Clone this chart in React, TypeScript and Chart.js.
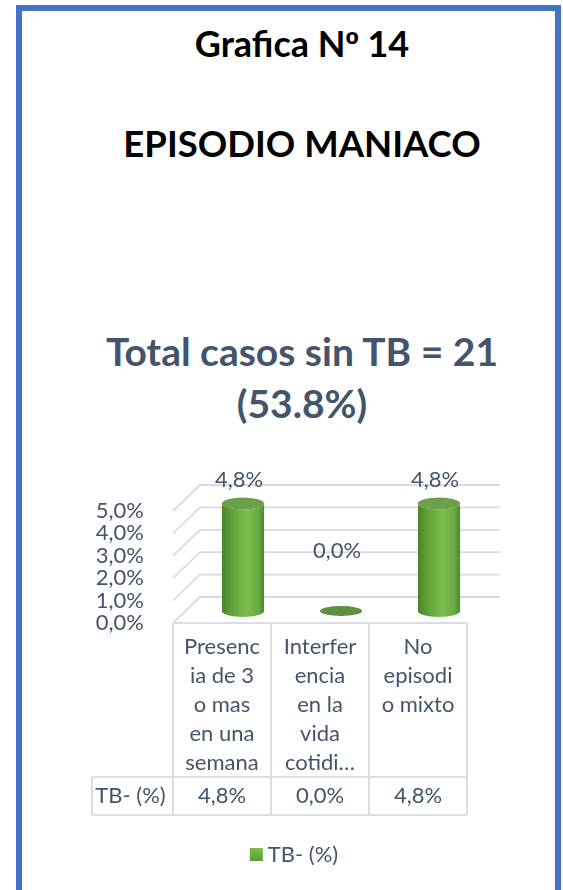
import React, { useEffect, useRef } from "react";
import { Chart, registerables } from "chart.js";

Chart.register(...registerables);

// ---------- data ----------
const HEADING_1 = "Grafica Nº 14";
const HEADING_2 = "EPISODIO MANIACO";
const CHART_TITLE = ["Total casos sin TB = 21", "(53.8%)"];
const SERIES_LABEL = "TB- (%)";
const CATEGORIES: string[][] = [
  ["Presenc", "ia de 3", "o mas", "en una", "semana"],
  ["Interfer", "encia", "en la", "vida", "cotidi…"],
  ["No", "episodi", "o mixto"],
];
const VALUES = [4.8, 0.0, 4.8];
const Y_MIN = 0;
const Y_MAX = 5;
const Y_STEP = 1;

// ---------- style ----------
const TEXT = "#44546A";
const GRID = "#D8DCE2";
const TABLE_LINE = "#DADDE2";
const FONT = "Lato, 'Open Sans', sans-serif";
const FS = 22;
const DEPTH_X = 27;
const DEPTH_Y = -26;
const BAR_DX = 21;
const BAR_DY = -12;
const RY = 6;

const fmt = (v: number) => v.toFixed(1).replace(".", ",") + "%";

const excel3d = {
  id: "excel3d",
  beforeDatasetsDraw(chart: any) {
    const { ctx, chartArea } = chart;
    const ys = chart.scales.y;
    ctx.save();
    ctx.strokeStyle = GRID;
    ctx.lineWidth = 1.8;
    ys.ticks.forEach((t: any) => {
      const py = ys.getPixelForValue(t.value);
      ctx.beginPath();
      ctx.moveTo(chartArea.left, py);
      ctx.lineTo(chartArea.left + DEPTH_X, py + DEPTH_Y);
      ctx.lineTo(chartArea.right + 33, py + DEPTH_Y);
      ctx.stroke();
    });
    ctx.restore();
  },
  afterDatasetsDraw(chart: any) {
    const { ctx, chartArea } = chart;
    const ys = chart.scales.y;
    const xs = chart.scales.x;
    const meta = chart.getDatasetMeta(0);
    const ds = chart.data.datasets[0];
    ctx.save();

    // cylinders
    meta.data.forEach((bar: any) => {
      const { x, y, base, width } = bar.getProps(["x", "y", "base", "width"], true);
      const cx = x + BAR_DX;
      const top = y + BAR_DY;
      const bottom = base + BAR_DY;
      const rx = width / 2;
      if (Math.abs(bottom - top) < 1) {
        ctx.beginPath();
        ctx.ellipse(cx, bottom, rx, RY - 1, 0, 0, Math.PI * 2);
        ctx.fillStyle = "#5E8F42";
        ctx.fill();
        return;
      }
      const g = ctx.createLinearGradient(cx - rx, 0, cx + rx, 0);
      g.addColorStop(0, "#4A8427");
      g.addColorStop(0.3, "#66A83E");
      g.addColorStop(0.6, "#7DBE50");
      g.addColorStop(0.85, "#6AAB42");
      g.addColorStop(1, "#4E8A2C");
      ctx.beginPath();
      ctx.moveTo(cx - rx, top);
      ctx.lineTo(cx - rx, bottom);
      ctx.ellipse(cx, bottom, rx, RY, 0, Math.PI, 0, true);
      ctx.lineTo(cx + rx, top);
      ctx.ellipse(cx, top, rx, RY, 0, 0, Math.PI, false);
      ctx.closePath();
      ctx.fillStyle = g;
      ctx.fill();
      ctx.beginPath();
      ctx.ellipse(cx, top, rx, RY, 0, 0, Math.PI * 2);
      ctx.fillStyle = "#6B9F49";
      ctx.fill();
    });

    // data labels
    ctx.font = `${FS}px ${FONT}`;
    ctx.fillStyle = TEXT;
    ctx.textAlign = "center";
    ctx.textBaseline = "middle";
    meta.data.forEach((bar: any, i: number) => {
      const { x, y } = bar.getProps(["x", "y"], true);
      const ly = Math.min(y + BAR_DY - 24, ys.getPixelForValue(Y_MAX * 0.64));
      ctx.fillText(fmt(ds.data[i]), x + BAR_DX - 4, ly);
    });

    // data table
    const n = chart.data.labels.length;
    const colW = (chartArea.right - chartArea.left) / n;
    const tableTop = chartArea.bottom;
    const rowTop = 777;
    const rowBottom = 815;
    const rowLeft = 92;
    ctx.strokeStyle = TABLE_LINE;
    ctx.lineWidth = 2;
    ctx.beginPath();
    ctx.moveTo(chartArea.left, tableTop);
    ctx.lineTo(chartArea.right, tableTop);
    ctx.moveTo(rowLeft, rowTop);
    ctx.lineTo(chartArea.right, rowTop);
    ctx.moveTo(rowLeft, rowBottom);
    ctx.lineTo(chartArea.right, rowBottom);
    ctx.moveTo(rowLeft, rowTop);
    ctx.lineTo(rowLeft, rowBottom);
    for (let i = 0; i <= n; i++) {
      const px = i < n ? xs.getPixelForValue(i) - colW / 2 : xs.getPixelForValue(n - 1) + colW / 2;
      ctx.moveTo(px, tableTop);
      ctx.lineTo(px, rowBottom);
    }
    ctx.stroke();

    ctx.fillStyle = TEXT;
    ctx.font = `${FS}px ${FONT}`;
    chart.data.labels.forEach((lines: string[], i: number) => {
      const cx = xs.getPixelForValue(i);
      lines.forEach((ln, k) => ctx.fillText(ln, cx, 647 + k * 29));
      ctx.fillText(fmt(ds.data[i]), cx, 796);
    });
    ctx.fillText(ds.label, (rowLeft + chartArea.left) / 2 - 2, 796);

    // legend
    const tw = ctx.measureText(ds.label).width;
    const total = 13 + 5 + tw;
    const lx = 294 - total / 2;
    const lg = ctx.createLinearGradient(0, 848, 0, 861);
    lg.addColorStop(0, "#7DBE50");
    lg.addColorStop(1, "#5E9A38");
    ctx.fillStyle = lg;
    ctx.fillRect(lx, 848, 13, 13);
    ctx.fillStyle = TEXT;
    ctx.textAlign = "left";
    ctx.fillText(ds.label, lx + 18, 855);
    ctx.restore();
  },
};

export default function App() {
  const ref = useRef<HTMLCanvasElement | null>(null);
  useEffect(() => {
    if (!ref.current) return;
    const chart = new Chart(ref.current, {
      type: "bar",
      data: {
        labels: CATEGORIES as any,
        datasets: [
          {
            label: SERIES_LABEL,
            data: VALUES,
            backgroundColor: "rgba(0,0,0,0)",
            borderWidth: 0,
            categoryPercentage: 1,
            barPercentage: 0.43,
          },
        ],
      },
      options: {
        animation: false,
        responsive: false,
        maintainAspectRatio: false,
        layout: { padding: { left: 73, right: 96, top: 511, bottom: 267 } },
        plugins: {
          legend: { display: false },
          title: { display: false },
          tooltip: { enabled: false },
        },
        scales: {
          x: { display: false },
          y: {
            min: Y_MIN,
            max: Y_MAX,
            afterFit: (s: any) => {
              s.width = 100;
            },
            ticks: {
              stepSize: Y_STEP,
              autoSkip: false,
              padding: 21,
              color: TEXT,
              font: { family: FONT, size: FS },
              callback: (v: any) => fmt(Number(v)),
            },
            grid: { display: false },
            border: { display: false },
          },
        },
      },
      plugins: [excel3d],
    });
    if ((document as any).fonts?.ready) {
      (document as any).fonts.ready.then(() => chart.update());
    }
    return () => chart.destroy();
  }, []);

  const headStyle = (size: number, top: number, color: string, lh: number): React.CSSProperties => ({
    position: "absolute",
    left: 42,
    width: 520,
    top,
    textAlign: "center",
    fontFamily: FONT,
    fontWeight: 700,
    fontSize: size,
    lineHeight: `${lh}px`,
    color,
    whiteSpace: "nowrap",
  });

  const h1Parts = HEADING_1.split("º");

  return (
    <div
      style={{
        position: "absolute",
        left: 0,
        top: 0,
        width: 563,
        height: 890,
        overflow: "hidden",
        background: "#fff",
      }}
    >
      <div
        style={{
          position: "absolute",
          left: 16,
          top: 5,
          width: 545,
          height: 960,
          boxSizing: "border-box",
          border: "6px solid #4472C4",
        }}
      />
      <div style={headStyle(36, 20, "#000", 46)}>
        {h1Parts[0]}
        <span style={{ fontFamily: "'Liberation Sans', 'DejaVu Sans', sans-serif" }}>º</span>
        {h1Parts[1]}
      </div>
      <div style={headStyle(36.5, 119, "#000", 48)}>{HEADING_2}</div>
      <div style={headStyle(39, 325, TEXT, 52)}>
        {CHART_TITLE.map((t) => (
          <div key={t}>{t}</div>
        ))}
      </div>
      <canvas
        ref={ref}
        width={563}
        height={890}
        style={{ position: "absolute", left: 0, top: 0, width: 563, height: 890 }}
      />
    </div>
  );
}
